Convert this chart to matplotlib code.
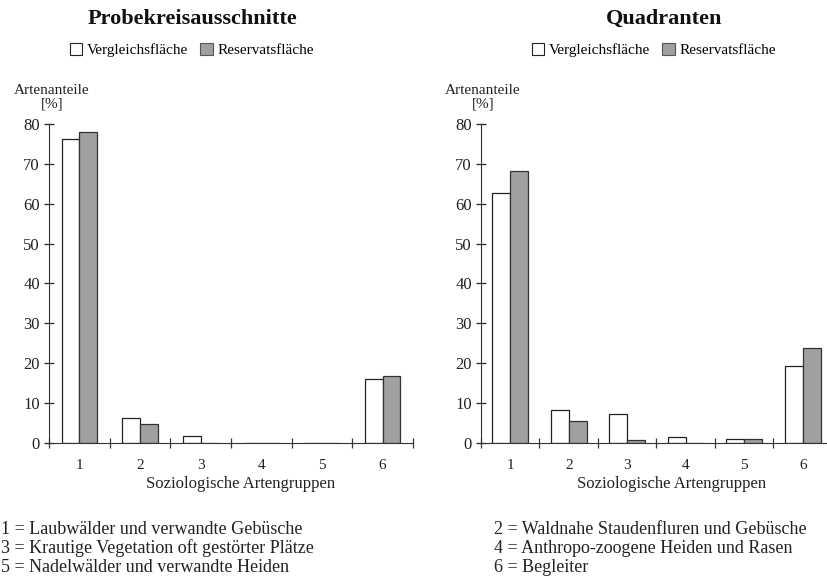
import matplotlib
matplotlib.use("Agg")
import matplotlib.pyplot as plt
from matplotlib.patches import Patch
from matplotlib.ticker import FixedLocator, NullFormatter
import numpy as np

plt.rcParams['font.family'] = ['Liberation Serif', 'DejaVu Serif']

categories = ['1', '2', '3', '4', '5', '6']
titles = ['Probekreisausschnitte', 'Quadranten']
series_names = ['Vergleichsfläche', 'Reservatsfläche']

probe_vergleich = [76.3, 6.1, 1.7, 0.0, 0.0, 16.1]
probe_reservat = [78.0, 4.7, 0.0, 0.0, 0.0, 16.8]
quad_vergleich = [62.8, 8.3, 7.2, 1.4, 1.0, 19.3]
quad_reservat = [68.3, 5.5, 0.8, 0.0, 1.0, 23.8]

yticks = [0, 10, 20, 30, 40, 50, 60, 70, 80]
ylabel = 'Artenanteile\n[%]'
xlabel = 'Soziologische Artengruppen'
footnotes_left = ['1 = Laubwälder und verwandte Gebüsche',
                  '3 = Krautige Vegetation oft gestörter Plätze',
                  '5 = Nadelwälder und verwandte Heiden']
footnotes_right = ['2 = Waldnahe Staudenfluren und Gebüsche',
                   '4 = Anthropo-zoogene Heiden und Rasen',
                   '6 = Begleiter']

W, H = 828, 579
fig = plt.figure(figsize=(W / 100, H / 100), dpi=100)

GREY = '#a0a0a0'
FS = 12

def fx(px):
    return px / W

def fy(py):
    return 1 - py / H

panels = [
    dict(rect=[fx(49), fy(442.7), fx(364), (442.7 - 124) / H], bw=0.29,
         data=(probe_vergleich, probe_reservat), title_x=192, leg_x=192, ylab_x=52,
         xlab_x=241),
    dict(rect=[fx(481), fy(442.7), fx(351), (442.7 - 124) / H], bw=0.31,
         data=(quad_vergleich, quad_reservat), title_x=664, leg_x=654, ylab_x=483,
         xlab_x=672),
]

for p, title in zip(panels, titles):
    ax = fig.add_axes(p['rect'])
    x = np.arange(1, len(categories) + 1)
    bw = p['bw']
    v, r = p['data']
    ax.bar(x - bw / 2, v, width=bw, color='white', edgecolor='#222222', linewidth=0.9)
    ax.bar(x + bw / 2, r, width=bw, color=GREY, edgecolor='#333333', linewidth=0.9)
    ax.set_xlim(0.5, len(categories) + 0.5)
    ax.set_ylim(0, 80)
    for s in ['top', 'right']:
        ax.spines[s].set_visible(False)
    ax.spines['left'].set_color('#333333')
    ax.spines['bottom'].set_color('#333333')
    ax.set_yticks(yticks)
    ax.tick_params(axis='y', direction='inout', length=7, width=0.9, pad=3,
                   labelsize=FS, colors='#222222')
    ax.set_xticks(x)
    ax.set_xticklabels(categories)
    ax.xaxis.set_minor_locator(FixedLocator(np.arange(0.5, len(categories) + 1, 1.0)))
    ax.xaxis.set_minor_formatter(NullFormatter())
    ax.tick_params(axis='x', which='major', length=0, pad=12, labelsize=FS - 1,
                   colors='#222222')
    ax.tick_params(axis='x', which='minor', direction='inout', length=7, width=0.9,
                   color='#333333')
    ax.set_xlabel(xlabel, fontsize=FS, color='#222222')
    x0, w = p['rect'][0], p['rect'][2]
    ax.xaxis.set_label_coords((fx(p['xlab_x']) - x0) / w, -(484 - 442.7) / (442.7 - 124),
                              transform=ax.transAxes)
    ax.xaxis.label.set_va('center')
    fig.text(fx(p['ylab_x']), fy(97), ylabel, ha='center', va='center',
             fontsize=FS - 1, linespacing=1.0, color='#222222')
    fig.text(fx(p['title_x']), fy(19), title, ha='center', va='center',
             fontsize=16, fontweight='bold', color='#111111')
    handles = [Patch(facecolor='white', edgecolor='#222222', linewidth=0.8),
               Patch(facecolor=GREY, edgecolor='#555555', linewidth=0.8)]
    fig.legend(handles, series_names, loc='center', bbox_to_anchor=(fx(p['leg_x']), fy(50)),
               ncol=2, frameon=False, fontsize=FS - 1, handlelength=0.8, handleheight=0.8,
               handletextpad=0.3, columnspacing=0.8)

for i, t in enumerate(footnotes_left):
    fig.text(fx(1), fy(530 + 18.5 * i), t, ha='left', va='center', fontsize=13,
             color='#222222')
for i, t in enumerate(footnotes_right):
    fig.text(fx(494), fy(530 + 18.5 * i), t, ha='left', va='center', fontsize=13,
             color='#222222')

fig.savefig('out.png', dpi=100)
